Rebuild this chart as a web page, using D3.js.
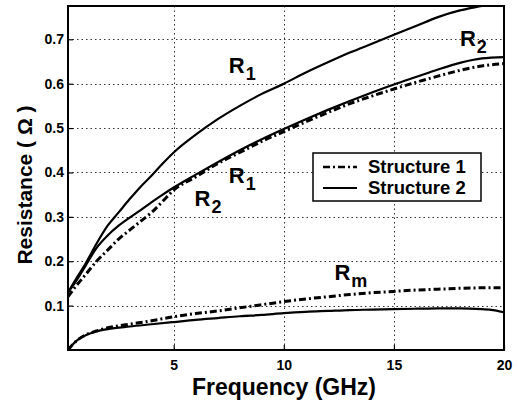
<!DOCTYPE html>
<html>
<head>
<meta charset="utf-8">
<script src="https://cdn.jsdelivr.net/npm/d3@7"></script>
<style>
  body { margin: 0; background: #fff; }
  svg { display: block; font-family: "Liberation Sans", Arial, sans-serif; font-weight: bold; }
</style>
</head>
<body>
<div id="chart"></div>
<script>
// Data (frequency in GHz, resistance in ohm)
const freq = [0.2, 0.5, 1, 1.5, 2, 2.5, 3, 3.5, 4, 4.5, 5, 6, 7, 8, 9, 10, 11, 12, 13, 14, 15, 16, 17, 18, 19, 20];
const s2R1 = [0.13, 0.155, 0.195, 0.24, 0.28, 0.31, 0.34, 0.368, 0.393, 0.42, 0.445, 0.485, 0.52, 0.55, 0.577, 0.6, 0.625, 0.648, 0.67, 0.69, 0.71, 0.73, 0.75, 0.765, 0.775, 0.785];
const s2R2 = [0.13, 0.15, 0.19, 0.23, 0.258, 0.28, 0.298, 0.315, 0.333, 0.35, 0.366, 0.395, 0.423, 0.45, 0.475, 0.498, 0.52, 0.541, 0.561, 0.58, 0.598, 0.615, 0.632, 0.647, 0.657, 0.66];
const s1R = [0.12, 0.14, 0.17, 0.2, 0.225, 0.25, 0.27, 0.29, 0.31, 0.335, 0.36, 0.39, 0.42, 0.445, 0.47, 0.492, 0.514, 0.535, 0.555, 0.572, 0.588, 0.603, 0.617, 0.63, 0.64, 0.645];
const freqM = [0.2, 0.4, 0.7, 1, 1.5, 2, 3, 4, 5, 6, 7, 8, 9, 10, 11, 12, 13, 14, 15, 16, 17, 18, 19, 19.5, 20];
const s1Rm = [0.0, 0.012, 0.025, 0.034, 0.043, 0.05, 0.058, 0.066, 0.075, 0.082, 0.088, 0.095, 0.102, 0.109, 0.115, 0.12, 0.125, 0.129, 0.132, 0.135, 0.137, 0.139, 0.14, 0.14, 0.14];
const s2Rm = [0.0, 0.012, 0.025, 0.033, 0.042, 0.047, 0.053, 0.058, 0.063, 0.068, 0.072, 0.076, 0.079, 0.083, 0.086, 0.088, 0.09, 0.091, 0.092, 0.093, 0.094, 0.094, 0.092, 0.09, 0.085];
const xTicks = [5, 10, 15, 20];
const yTicks = [0.1, 0.2, 0.3, 0.4, 0.5, 0.6, 0.7];
const legendNames = ['Structure 1', 'Structure 2'];

const width = 518, height = 403;
const margin = { top: 6, right: 14, bottom: 53, left: 68 };
const w = width - margin.left - margin.right;
const h = height - margin.top - margin.bottom;

const svg = d3.select('#chart').append('svg')
  .attr('width', width)
  .attr('height', height);

const g = svg.append('g')
  .attr('transform', `translate(${margin.left},${margin.top})`);

const x = d3.scaleLinear().domain([0.2, 20]).range([0, w]);
const y = d3.scaleLinear().domain([0, 0.775]).range([h, 0]);
const snap = v => Math.round(v) + 0.5;

// dotted grid
g.selectAll('.vgrid').data(xTicks.slice(0, 3)).enter().append('line')
  .attr('class', 'vgrid')
  .attr('x1', d => snap(x(d))).attr('x2', d => snap(x(d)))
  .attr('y1', 0).attr('y2', h)
  .attr('stroke', '#333').attr('stroke-width', 1).attr('stroke-dasharray', '1.5,3');
g.selectAll('.hgrid').data(yTicks).enter().append('line')
  .attr('class', 'hgrid')
  .attr('x1', 0).attr('x2', w)
  .attr('y1', d => snap(y(d))).attr('y2', d => snap(y(d)))
  .attr('stroke', '#333').attr('stroke-width', 1).attr('stroke-dasharray', '1.5,3');

// axes
const xAxis = g.append('g')
  .attr('transform', `translate(0,${h})`)
  .call(d3.axisBottom(x).tickValues(xTicks).tickSize(-5).tickPadding(10).tickFormat(d3.format('d')));
const yAxis = g.append('g')
  .call(d3.axisLeft(y).tickValues(yTicks).tickSize(-5).tickPadding(4).tickFormat(d3.format('.1f')));
[xAxis, yAxis].forEach(a => {
  a.select('.domain').remove();
  a.selectAll('line').attr('stroke', '#000').attr('stroke-width', 1.2);
  a.selectAll('text').attr('font-size', 14).attr('font-weight', 'bold').attr('fill', '#000')
    .attr('font-family', '"Liberation Sans", Arial, sans-serif');
});

// frame
g.append('rect').attr('width', w).attr('height', h)
  .attr('fill', 'none').attr('stroke', '#000').attr('stroke-width', 2);

g.append('clipPath').attr('id', 'clip')
  .append('rect').attr('width', w).attr('height', h);

const line = d3.line()
  .x(d => x(d[0]))
  .y(d => y(d[1]))
  .curve(d3.curveMonotoneX);

const plot = g.append('g').attr('clip-path', 'url(#clip)');
const dashDot = '7,3,2,3';

const series = [
  { f: freq, v: s1R, dash: dashDot },
  { f: freq, v: s2R1, dash: null },
  { f: freq, v: s2R2, dash: null },
  { f: freqM, v: s1Rm, dash: dashDot },
  { f: freqM, v: s2Rm, dash: null }
];

series.forEach(s => {
  plot.append('path')
    .datum(s.f.map((f, i) => [f, s.v[i]]))
    .attr('d', line)
    .attr('fill', 'none')
    .attr('stroke', '#000')
    .attr('stroke-width', s.dash ? 3 : 2.2)
    .attr('stroke-dasharray', s.dash);
});

// curve labels
const labels = [
  { t: 'R', sub: '1', f: 7.5, r: 0.625 },
  { t: 'R', sub: '2', f: 18, r: 0.685 },
  { t: 'R', sub: '1', f: 7.5, r: 0.376 },
  { t: 'R', sub: '2', f: 5.95, r: 0.325 },
  { t: 'R', sub: 'm', f: 12.3, r: 0.158 }
];
labels.forEach(l => {
  const t = g.append('text')
    .attr('x', x(l.f)).attr('y', y(l.r))
    .attr('font-size', 22).attr('font-weight', 'bold');
  t.append('tspan').text(l.t);
  t.append('tspan').attr('font-size', 18).attr('dx', 1).attr('dy', 7).text(l.sub);
});

// legend
const lg = svg.append('g').attr('transform', 'translate(313,153)');
lg.append('rect').attr('width', 168).attr('height', 48)
  .attr('fill', '#fff').attr('stroke', '#000').attr('stroke-width', 1.5);
legendNames.forEach((name, i) => {
  const yy = 14 + i * 21;
  lg.append('line')
    .attr('x1', 10).attr('x2', 44).attr('y1', yy).attr('y2', yy)
    .attr('stroke', '#000').attr('stroke-width', i === 0 ? 2.5 : 2.2)
    .attr('stroke-dasharray', i === 0 ? dashDot : null);
  lg.append('text')
    .attr('x', 55).attr('y', yy + 6)
    .attr('font-size', 18.5).attr('font-weight', 'bold')
    .text(name);
});

// axis titles
svg.append('text')
  .attr('x', 284).attr('y', 395)
  .attr('text-anchor', 'middle').attr('font-size', 23).attr('font-weight', 'bold')
  .text('Frequency (GHz)');
svg.append('text')
  .attr('transform', 'translate(32,185) rotate(-90)')
  .attr('text-anchor', 'middle').attr('font-size', 21).attr('font-weight', 'bold')
  .text('Resistance ( Ω )');
</script>
</body>
</html>
